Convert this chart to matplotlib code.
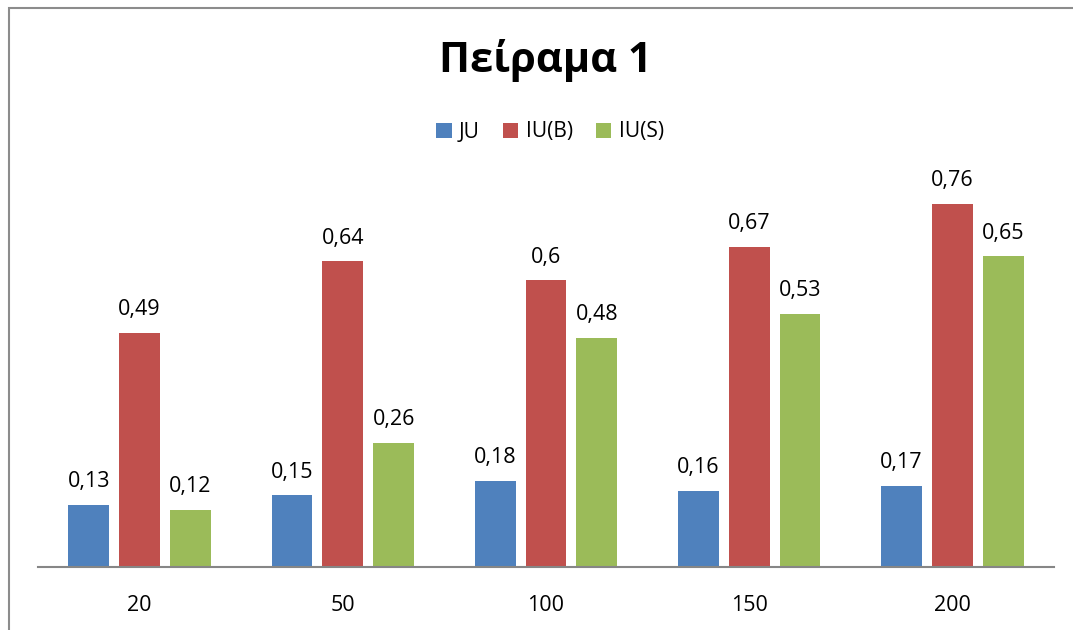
import matplotlib.pyplot as plt
from matplotlib.patches import Rectangle
import numpy as np

plt.rcParams['font.family'] = ['Open Sans', 'DejaVu Sans']

# Data
categories = ["20", "50", "100", "150", "200"]
series_names = ["JU", "IU(B)", "IU(S)"]
ju = [0.13, 0.15, 0.18, 0.16, 0.17]
iu_b = [0.49, 0.64, 0.60, 0.67, 0.76]
iu_s = [0.12, 0.26, 0.48, 0.53, 0.65]
colors = ["#4F81BD", "#C0504D", "#9BBB59"]

W, H = 1073, 630
fig = plt.figure(figsize=(W / 100, H / 100), dpi=100)

# chart border (only top/left visible in the reference)
fig.patches.append(Rectangle((9 / W, -0.2), 1.2, 1.2 - 8 / H, transform=fig.transFigure,
                             fill=False, edgecolor="#8c8c8c", linewidth=1.5))

ax = fig.add_axes([38 / W, 63 / H, 1016 / W, 430 / H])
x = np.arange(len(categories))
width = 0.2
offsets = [-0.25, 0, 0.25]

for vals, name, col, off in zip([ju, iu_b, iu_s], series_names, colors, offsets):
    bars = ax.bar(x + off, vals, width, color=col, label=name)
    for b, v in zip(bars, vals):
        txt = f"{v:g}".replace(".", ",")
        ax.annotate(txt, (b.get_x() + b.get_width() / 2, v), xytext=(0, 9),
                    textcoords="offset points", ha="center", va="bottom",
                    fontsize=15.5, color="#000000")

ax.set_xlim(-0.5, len(categories) - 0.5)
ax.set_ylim(0, 0.9)
ax.set_xticks(x)
ax.set_xticklabels(categories, fontsize=15.5)
ax.tick_params(axis="x", length=0, pad=20)
ax.set_yticks([])
for s in ["top", "right", "left"]:
    ax.spines[s].set_visible(False)
ax.spines["bottom"].set_color("#868686")
ax.spines["bottom"].set_linewidth(1.5)

fig.text(545 / W, 1 - 60 / H, "Πείραμα 1", ha="center", va="center",
         fontsize=30, fontweight="bold")

fig.legend(loc="center", bbox_to_anchor=(550 / W, 1 - 132 / H), ncol=3, frameon=False,
           fontsize=15, handlelength=0.75, handleheight=0.75, handletextpad=0.35,
           columnspacing=1.1)

fig.savefig("out.png", dpi=100)
